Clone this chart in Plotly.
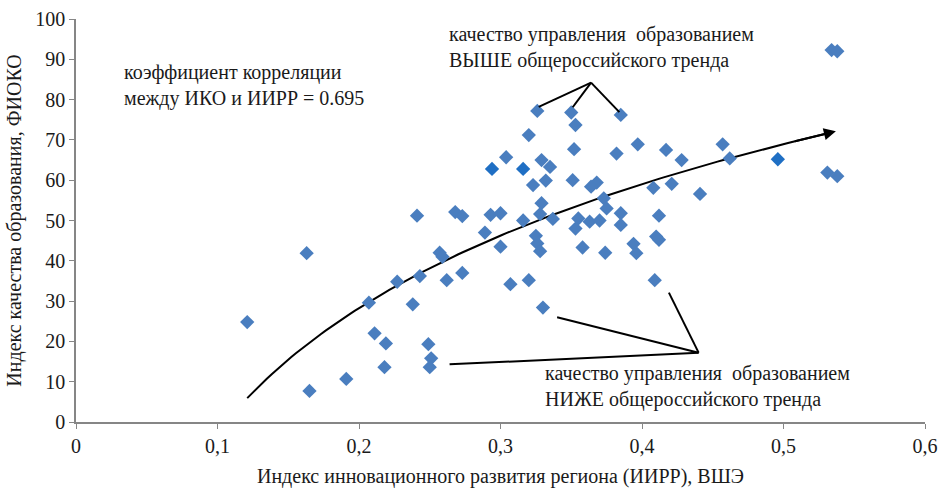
import numpy as np
import plotly.graph_objects as go

# Regional indices: innovation development (x) and education quality (y)
iirr = [0.121, 0.163, 0.165, 0.191, 0.207, 0.211, 0.219, 0.218, 0.227, 0.238,
        0.241, 0.243, 0.249, 0.251, 0.250, 0.257, 0.259, 0.262, 0.273, 0.268,
        0.273, 0.289, 0.293, 0.300, 0.300, 0.307, 0.320, 0.330, 0.326, 0.350,
        0.353, 0.385, 0.320, 0.352, 0.397, 0.382, 0.417, 0.428, 0.304, 0.329,
        0.335, 0.332, 0.323, 0.351, 0.368, 0.364, 0.408, 0.421, 0.441, 0.373,
        0.375, 0.329, 0.328, 0.337, 0.316, 0.325, 0.326, 0.328, 0.355, 0.353,
        0.363, 0.370, 0.385, 0.385, 0.412, 0.358, 0.374, 0.394, 0.396, 0.410,
        0.412, 0.409, 0.534, 0.538, 0.457, 0.462, 0.531, 0.538]
iko = [24.8, 41.9, 7.7, 10.7, 29.6, 22.0, 19.5, 13.6, 34.8, 29.2,
       51.2, 36.2, 19.3, 15.8, 13.6, 42.0, 41.0, 35.2, 37.0, 52.1,
       51.1, 47.0, 51.4, 51.8, 43.5, 34.2, 35.2, 28.4, 77.2, 76.8,
       73.7, 76.2, 71.2, 67.7, 68.9, 66.6, 67.5, 65.0, 65.7, 65.0,
       63.3, 59.9, 58.8, 60.0, 59.4, 58.4, 58.1, 59.1, 56.6, 55.5,
       53.0, 54.3, 51.6, 50.4, 50.0, 46.2, 44.3, 42.4, 50.5, 48.0,
       49.7, 50.0, 51.8, 48.9, 51.2, 43.3, 42.0, 44.2, 41.9, 46.0,
       45.2, 35.2, 92.3, 92.0, 68.9, 65.4, 61.9, 61.0]

# Points drawn in a darker shade
iirr_dark = [0.294, 0.316, 0.496]
iko_dark = [62.8, 62.8, 65.2]

x_ticks = [0, 0.1, 0.2, 0.3, 0.4, 0.5, 0.6]
x_tick_labels = ["0", "0,1", "0,2", "0,3", "0,4", "0,5", "0,6"]
y_ticks = list(range(0, 101, 10))

# Logarithmic trend fitted to all points (as in the spreadsheet trendline)
all_x = np.array(iirr + iirr_dark)
all_y = np.array(iko + iko_dark)
b, a = np.polyfit(np.log(all_x), all_y, 1)
trend_start, trend_end = 0.121, 0.537
tx = np.linspace(trend_start, trend_end - 0.004, 120)
ty = a + b * np.log(tx)

FONT = "Liberation Serif, Times New Roman, serif"
BLUE = "#4a7ebf"
DARK = "#1f6fc4"
TXT = "#1a1a1a"
FS = 20

fig = go.Figure()
fig.add_trace(go.Scatter(x=tx, y=ty, mode="lines",
                         line=dict(color="black", width=2), hoverinfo="skip"))
fig.add_trace(go.Scatter(x=iirr, y=iko, mode="markers",
                         marker=dict(symbol="diamond", size=11, color=BLUE)))
fig.add_trace(go.Scatter(x=iirr_dark, y=iko_dark, mode="markers",
                         marker=dict(symbol="diamond", size=11, color=DARK)))

# arrow head at end of trend
end_y = a + b * np.log(trend_end)
tail_x = trend_end - 0.03
fig.add_annotation(x=trend_end, y=end_y, ax=tail_x, ay=a + b * np.log(tail_x),
                   xref="x", yref="y", axref="x", ayref="y", text="",
                   showarrow=True, arrowhead=2, arrowsize=1.2, arrowwidth=2,
                   arrowcolor="black", standoff=0)

# pointer lines
line_style = dict(color="black", width=2)
above_apex = (0.364, 84.2)
for ex, ey in [(0.327, 78.2), (0.351, 78.1), (0.384, 76.9)]:
    fig.add_shape(type="line", xref="x", yref="y", x0=above_apex[0], y0=above_apex[1],
                  x1=ex, y1=ey, line=line_style)
below_apex = (0.440, 17.2)
for ex, ey in [(0.340, 26.0), (0.419, 32.1), (0.264, 14.3)]:
    fig.add_shape(type="line", xref="x", yref="y", x0=below_apex[0], y0=below_apex[1],
                  x1=ex, y1=ey, line=line_style)

txt_font = dict(family=FONT, size=FS, color=TXT)
fig.add_annotation(x=0.0325, y=90.1, xref="x", yref="y", xanchor="left", yanchor="top",
                   align="left", showarrow=False, font=txt_font,
                   text="коэффициент корреляции<br>между ИКО и ИИРР = 0.695")
fig.add_annotation(x=0.262, y=0.995, xref="x", yref="paper", xanchor="left", yanchor="top",
                   align="left", showarrow=False, font=txt_font,
                   text="качество управления\u00a0 образованием<br>ВЫШЕ общероссийского тренда")
fig.add_annotation(x=0.330, y=15.3, xref="x", yref="y", xanchor="left", yanchor="top",
                   align="left", showarrow=False, font=txt_font,
                   text="качество управления\u00a0 образованием<br>НИЖЕ общероссийского тренда")

axis_common = dict(showgrid=False, zeroline=False, showline=True, linecolor="#868686",
                   linewidth=1.5, ticks="outside", ticklen=5, tickcolor="#868686",
                   automargin=False, ticklabeloverflow="allow",
                   tickfont=dict(family=FONT, size=FS, color=TXT))
fig.update_xaxes(range=[0, 0.6], tickvals=x_ticks, ticktext=x_tick_labels,
                 title=dict(text="Индекс инновационного развития региона (ИИРР), ВШЭ",
                            font=dict(family=FONT, size=FS, color=TXT), standoff=21),
                 **axis_common)
fig.update_yaxes(range=[0, 100], tickvals=y_ticks,
                 title=dict(text="Индекс качества образования, ФИОКО",
                            font=dict(family=FONT, size=FS, color=TXT), standoff=8),
                 **axis_common)
fig.update_layout(width=941, height=488, showlegend=False,
                  margin=dict(l=76, r=16, t=19, b=66),
                  plot_bgcolor="white", paper_bgcolor="white")
fig.write_html("out.html", config={"displayModeBar": False},
               post_script="document.body.style.margin='0';document.body.style.overflow='hidden';")
